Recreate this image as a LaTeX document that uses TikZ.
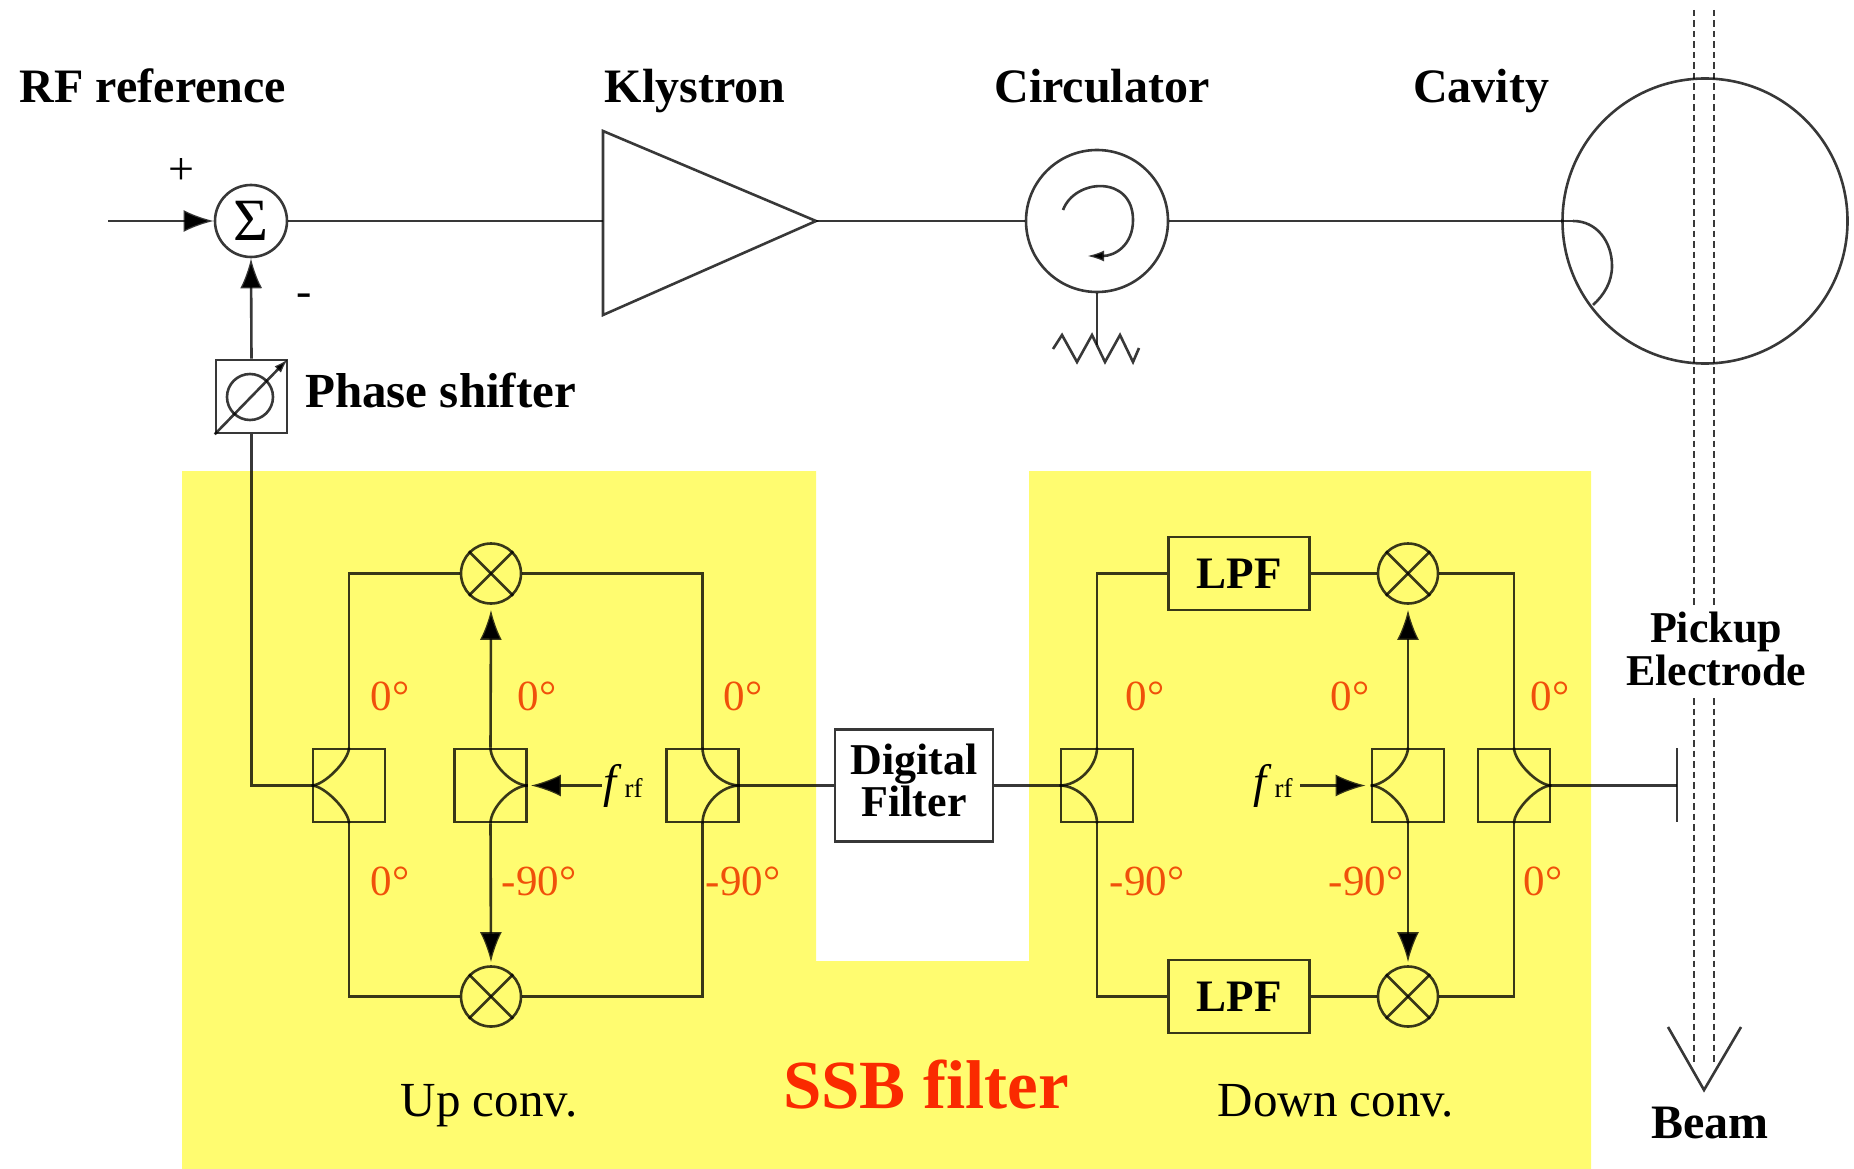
\documentclass[tikz,border=0pt]{standalone}
\usepackage{fontspec}
\setmainfont{Liberation Serif}
\usetikzlibrary{arrows.meta,calc}
\definecolor{ssbyellow}{HTML}{FFFC70}
\definecolor{ssbred}{HTML}{FA2A00}
\definecolor{phasered}{HTML}{F0500A}
\newcommand{\fpx}[1]{\fontsize{#1}{#1}\selectfont}
\newcommand{\frf}{{\fpx{47}\textit{f}\hspace{3pt}\fpx{27}rf}}
\tikzset{
  ln/.style={draw=black,draw opacity=.78,line width=2.6pt},
  wire/.style={ln},
  sol/.style={ln,-{Latex[length=30pt,width=22pt]}},
  boxn/.style={ln,rectangle,inner sep=0pt,align=center},
  coup/.style={boxn,minimum width=72pt,minimum height=73pt},
  mix/.style={ln,circle,inner sep=0pt,minimum size=60pt},
  lpf/.style={boxn,minimum width=141pt,minimum height=73pt,font=\bfseries\fpx{45}},
  lab/.style={inner sep=0pt,anchor=base,font=\bfseries\fpx{48}},
  plain/.style={inner sep=0pt,anchor=base,font=\fpx{49}},
  phase/.style={inner sep=0pt,anchor=base,text=phasered,font=\fpx{43}},
  frflab/.style={inner sep=0pt,anchor=base west},
  beam/.style={ln,dash pattern=on 6.5pt off 4pt},
}
% #1 node, #2 looseness of the branches
\newcommand{\coupL}[2]{\draw[wire] (#1.west) to[out=0,in=-90,looseness=#2] (#1.north);
  \draw[wire] (#1.west) to[out=0,in=90,looseness=#2] (#1.south);}
\newcommand{\coupR}[2]{\draw[wire] (#1.east) to[out=180,in=-90,looseness=#2] (#1.north);
  \draw[wire] (#1.east) to[out=180,in=90,looseness=#2] (#1.south);}
\newcommand{\mixcross}[1]{\draw[wire] (#1.45) -- (#1.225); \draw[wire] (#1.135) -- (#1.315);}
\begin{document}
\begin{tikzpicture}[x=1pt,y=-1pt]
\useasboundingbox (0,0) rectangle (1854,1169);
% yellow background
\fill[ssbyellow] (182,471) -- (816,471) -- (816,961) -- (1029,961) -- (1029,471) -- (1591,471) -- (1591,1169) -- (182,1169) -- cycle;

% top row
\node[lab] (trf) at (153,103) {RF reference};
\node[lab] (tkl) at (695,103) {Klystron};
\node[lab] (tci) at (1102,103) {Circulator};
\node[lab] (tca) at (1481,103) {Cavity};
\coordinate (in) at (108,221);
\node[ln,circle,inner sep=0pt,minimum size=72pt,font=\fpx{60}] (sum) at (251,221) {Σ};
\node[inner sep=0pt,font=\fpx{46}] (plus) at (181,172) {+};
\node[inner sep=0pt,font=\fpx{46}] (minus) at (304,300) {-};
\coordinate (klin) at (603,221);
\coordinate (klout) at (816,221);
\draw[ln] (603,131) -- (klout) -- (603,315) -- cycle;
\node[ln,circle,inner sep=0pt,minimum size=142pt] (circ) at (1097,221) {};
\node[ln,circle,inner sep=0pt,minimum size=285pt] (cav) at (1705,221) {};
\coordinate (loop) at (1573,221);
\draw[sol] (in) -- (sum.west);
\draw[wire] (sum.east) -- (klin);
\draw[wire] (klout) -- (circ.west);
\draw[wire] (circ.east) -- (loop);
\draw[wire] (loop) .. controls (1597,221) and (1612,242) .. (1612,266) .. controls (1612,282) and (1604,295) .. (1593,305);
\draw[ln,-{Latex[length=17pt,width=11pt]}] (1063,210) .. controls (1075,178) and (1133,175) .. (1133,220) .. controls (1133,245) and (1115,256) .. (1087,256);
\coordinate (rtop) at (1097,345);
\draw[wire] (circ.south) -- (rtop);
\draw[wire] (1053,349) -- (1062,335) -- (1077,362) -- (1092,335) -- (1105,362) -- (1120,335) -- (1133,362) -- (1139,348);

% phase shifter
\node[boxn,minimum width=71pt,minimum height=73pt] (ps) at (251.5,396.5) {};
\node[ln,circle,inner sep=0pt,minimum size=46pt] (psc) at (250,397) {};
\draw[ln,-{Latex[length=15pt,width=9pt]}] (ps.south west) -- (ps.north east);
\node[lab,anchor=base west,font=\bfseries\fpx{49}] (tps) at (305,407) {Phase shifter};
\draw[sol] (ps.north) -- (sum.south);

% couplers
\node[coup] (c1) at (349,785.5) {};
\node[coup] (c2) at (490.5,785.5) {};
\node[coup] (c3) at (702.5,785.5) {};
\node[coup] (c4) at (1097,785.5) {};
\node[coup] (c5) at (1408,785.5) {};
\node[coup] (c6) at (1514,785.5) {};
\coupL{c1}{.6}\coupR{c2}{.75}\coupR{c3}{.9}\coupL{c4}{.9}\coupL{c5}{.7}\coupR{c6}{.65}

% mixers
\node[mix] (m1) at (491,573.5) {};
\node[mix] (m2) at (491,996.5) {};
\node[mix] (m3) at (1408,573.5) {};
\node[mix] (m4) at (1408,996.5) {};
\mixcross{m1}\mixcross{m2}\mixcross{m3}\mixcross{m4}

% LPF and digital filter
\node[lpf] (l1) at (1239,573.5) {LPF};
\node[lpf] (l2) at (1239,996.5) {LPF};
\node[boxn,minimum width=158pt,minimum height=112pt,fill=white] (df) at (914,785.5) {};
\node[inner sep=0pt,anchor=base,font=\bfseries\fpx{44}] (df1) at (914,774) {Digital};
\node[inner sep=0pt,anchor=base,font=\bfseries\fpx{44}] (df2) at (914,816) {Filter};

% wires, up converter
\draw[wire] (c1.west) -| (ps.south);
\draw[wire] (c1.north) |- (m1.west);
\draw[wire] (c1.south) |- (m2.west);
\draw[wire] (m1.east) -| (c3.north);
\draw[wire] (m2.east) -| (c3.south);
\draw[sol,shorten >=5pt] (c2.north) -- (m1.south);
\draw[sol,shorten >=3pt] (c2.south) -- (m2.north);
\node[frflab] (f1) at (603,797) {\frf};
\coordinate (f1a) at (602,785.5);
\draw[sol,shorten >=3pt] (f1a) -- (c2.east);
\draw[wire] (c3.east) -- (df.west);
\draw[wire] (df.east) -- (c4.west);

% wires, down converter
\draw[wire] (c4.north) |- (l1.west);
\draw[wire] (c4.south) |- (l2.west);
\draw[wire] (l1.east) -- (m3.west);
\draw[wire] (l2.east) -- (m4.west);
\draw[wire] (m3.east) -| (c6.north);
\draw[wire] (m4.east) -| (c6.south);
\draw[sol,shorten >=5pt] (c5.north) -- (m3.south);
\draw[sol,shorten >=3pt] (c5.south) -- (m4.north);
\node[frflab] (f2) at (1253,797) {\frf};
\coordinate (f2a) at (1300,785.5);
\draw[sol,shorten >=5pt] (f2a) -- (c5.west);

% pickup and beam
\coordinate (pk) at (1677,785.5);
\draw[wire] (c6.east) -- (pk);
\draw[wire] (1677,748) -- (1677,822);
\coordinate (b1a) at (1694,10);
\coordinate (b1b) at (1694,605);
\coordinate (b1c) at (1694,698);
\coordinate (b1d) at (1694,1064);
\coordinate (b2a) at (1714,10);
\coordinate (b2b) at (1714,605);
\coordinate (b2c) at (1714,698);
\coordinate (b2d) at (1714,1064);
\draw[beam] (b1a) -- (b1b);
\draw[beam] (b2a) -- (b2b);
\draw[beam] (b1c) -- (b1d);
\draw[beam] (b2c) -- (b2d);
\draw[ln] (1668,1027) -- (1704,1090) -- (1741,1027);
\node[inner sep=0pt,anchor=base,font=\bfseries\fpx{44}] (tp1) at (1716,642) {Pickup};
\node[inner sep=0pt,anchor=base,font=\bfseries\fpx{44}] (tp2) at (1716,685) {Electrode};
\node[lab] (tb) at (1710,1138) {Beam};

% phase labels
\node[phase] (p1) at (390,710) {0°};
\node[phase] (p2) at (537,710) {0°};
\node[phase] (p3) at (743,710) {0°};
\node[phase] (p4) at (390,895) {0°};
\node[phase] (p5) at (539,895) {-90°};
\node[phase] (p6) at (743,895) {-90°};
\node[phase] (p7) at (1145,710) {0°};
\node[phase] (p8) at (1350,710) {0°};
\node[phase] (p9) at (1550,710) {0°};
\node[phase] (p10) at (1147,895) {-90°};
\node[phase] (p11) at (1366,895) {-90°};
\node[phase] (p12) at (1543,895) {0°};

% section labels
\node[plain] (tu) at (489,1116) {Up conv.};
\node[plain] (td) at (1336,1116) {Down conv.};
\node[inner sep=0pt,anchor=base,text=ssbred,font=\bfseries\fpx{69}] (tssb) at (926,1108) {SSB filter};
\end{tikzpicture}
\end{document}
